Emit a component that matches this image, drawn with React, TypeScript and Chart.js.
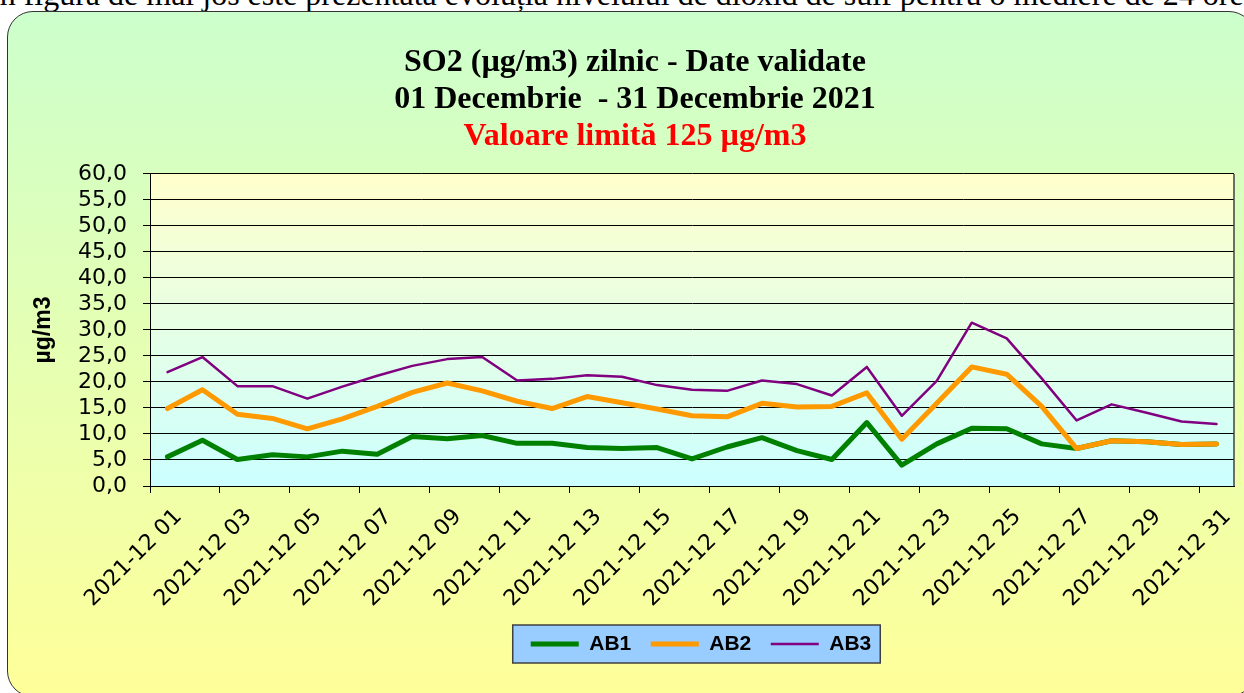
import React, { useEffect, useRef } from 'react';
import { Chart, registerables } from 'chart.js';

Chart.register(...registerables);

const categories = [
  '2021-12 01', '2021-12 02', '2021-12 03', '2021-12 04', '2021-12 05', '2021-12 06', '2021-12 07', '2021-12 08',
  '2021-12 09', '2021-12 10', '2021-12 11', '2021-12 12', '2021-12 13', '2021-12 14', '2021-12 15', '2021-12 16',
  '2021-12 17', '2021-12 18', '2021-12 19', '2021-12 20', '2021-12 21', '2021-12 22', '2021-12 23', '2021-12 24',
  '2021-12 25', '2021-12 26', '2021-12 27', '2021-12 28', '2021-12 29', '2021-12 30', '2021-12 31',
];

const ab1 = [5.6, 8.8, 5.1, 6.0, 5.6, 6.7, 6.1, 9.5, 9.1, 9.7, 8.2, 8.2, 7.4, 7.2, 7.4, 5.2, 7.5, 9.3, 6.8, 5.1, 12.2, 4.0, 8.1, 11.1, 11.0, 8.1, 7.2, 8.7, 8.5, 8.0, 8.1];
const ab2 = [14.9, 18.5, 13.8, 13.0, 11.0, 12.9, 15.3, 18.0, 19.8, 18.3, 16.3, 14.9, 17.2, 16.0, 14.8, 13.5, 13.3, 15.9, 15.2, 15.3, 17.9, 9.0, 15.9, 22.9, 21.5, 15.3, 7.2, 8.7, 8.5, 8.0, 8.1];
const ab3 = [21.9, 24.8, 19.2, 19.2, 16.8, 19.1, 21.2, 23.1, 24.4, 24.8, 20.3, 20.6, 21.3, 21.0, 19.4, 18.5, 18.3, 20.3, 19.6, 17.4, 22.9, 13.5, 20.2, 31.4, 28.4, 20.7, 12.6, 15.7, 14.1, 12.4, 11.9];

const seriesNames = ['AB1', 'AB2', 'AB3'];
const seriesColors = ['#008000', '#FF9900', '#800080'];

const titleLines = ['SO2 (µg/m3) zilnic - Date validate', '01 Decembrie  - 31 Decembrie 2021'];
const subtitleText = 'Valoare limită 125 µg/m3';
const yAxisTitle = 'µg/m3';
const introText = 'În figura de mai jos este prezentată evoluția nivelului de dioxid de sulf pentru o mediere de 24 ore';

const SANS = '"Liberation Sans", Arial, sans-serif';
const TICKFONT = '"DejaVu Sans", "Liberation Sans", sans-serif';
const SERIF = '"Liberation Serif", "Times New Roman", serif';

export default function App() {
  const ref = useRef<HTMLCanvasElement>(null);

  useEffect(() => {
    if (!ref.current) return;

    const decor = {
      id: 'decor',
      afterLayout(chart: any) {
        const lg = chart.legend;
        if (lg) {
          lg.left += 9;
          lg.right += 9;
        }
      },
      beforeDraw(chart: any) {
        const { ctx, chartArea: a } = chart;
        ctx.save();
        const g = ctx.createLinearGradient(0, a.top, 0, a.bottom);
        g.addColorStop(0, '#FFFFCC');
        g.addColorStop(1, '#CCFFFF');
        ctx.fillStyle = g;
        ctx.fillRect(a.left, a.top, a.right - a.left, a.bottom - a.top);
        const lg = chart.legend;
        if (lg && lg.legendHitBoxes && lg.legendHitBoxes.length) {
          const hb = lg.legendHitBoxes;
          const last = hb[hb.length - 1];
          const x0 = hb[0].left - 18;
          const x1 = last.left + last.width + 9;
          const cy = hb[0].top + hb[0].height / 2;
          ctx.fillStyle = '#99CCFF';
          ctx.fillRect(x0, cy - 19, x1 - x0, 38);
          ctx.strokeStyle = '#404040';
          ctx.lineWidth = 1.5;
          ctx.strokeRect(x0, cy - 19, x1 - x0, 38);
        }
        ctx.restore();
      },
      afterDraw(chart: any) {
        const { ctx, chartArea: a } = chart;
        ctx.save();
        ctx.strokeStyle = '#404040';
        ctx.lineWidth = 1.5;
        ctx.beginPath();
        ctx.moveTo(a.right, a.top);
        ctx.lineTo(a.right, a.bottom);
        ctx.stroke();
        ctx.restore();
      },
    };

    const datasets = [ab1, ab2, ab3].map((d, i) => ({
      label: seriesNames[i],
      data: d,
      borderColor: seriesColors[i],
      backgroundColor: seriesColors[i],
      borderWidth: i === 2 ? 2.5 : 5,
      pointRadius: 0,
      pointHoverRadius: 0,
      tension: 0,
      fill: false,
      borderJoinStyle: 'round' as const,
      borderCapStyle: 'round' as const,
      order: [2, 1, 3][i],
    }));

    const chart = new Chart(ref.current, {
      type: 'line',
      data: { labels: categories, datasets },
      plugins: [decor],
      options: {
        responsive: false,
        animation: false,
        events: [],
        layout: { padding: { left: 36, right: 10, top: 0, bottom: 28.5 } },
        plugins: {
          title: {
            display: true,
            text: titleLines,
            color: '#000',
            font: { family: SERIF, size: 32, weight: 'bold', lineHeight: 1.156 },
            padding: { top: 44, bottom: 0 },
          },
          subtitle: {
            display: true,
            text: subtitleText,
            color: '#FF0000',
            font: { family: SERIF, size: 32, weight: 'bold', lineHeight: 1.156 },
            padding: { top: 0, bottom: 19 },
          },
          legend: {
            position: 'bottom',
            fullSize: false,
            labels: {
              usePointStyle: true,
              pointStyle: 'line',
              pointStyleWidth: 48,
              padding: 19.5,
              color: '#000',
              font: { family: SANS, size: 21, weight: 'bold' },
              sort: (a: any, b: any) => a.datasetIndex - b.datasetIndex,
            },
          },
          tooltip: { enabled: false },
        },
        scales: {
          x: {
            type: 'category',
            offset: true,
            grid: {
              offset: true,
              drawOnChartArea: false,
              drawTicks: true,
              tickLength: 7,
              lineWidth: 1,
              color: (c: any) => (typeof c.index === 'number' && c.index % 2 === 0 ? '#000' : 'rgba(0,0,0,0)'),
            },
            border: { display: true, color: '#000', width: 1 },
            ticks: {
              autoSkip: false,
              minRotation: 45,
              maxRotation: 45,
              padding: 11,
              labelOffset: 11,
              color: '#000',
              font: { family: TICKFONT, size: 22 },
              callback: function (this: any, v: any, i: number) {
                return i % 2 === 0 ? this.getLabelForValue(v) : '';
              },
            },
            afterFit: (s: any) => {
              s.height = 128;
              s.paddingLeft = 0;
              s.paddingRight = 0;
            },
          },
          y: {
            min: 0,
            max: 60,
            ticks: {
              stepSize: 5,
              autoSkip: false,
              padding: 16,
              color: '#000',
              font: { family: TICKFONT, size: 22 },
              callback: (v: any) => Number(v).toFixed(1).replace('.', ','),
            },
            grid: { color: '#000', lineWidth: 1, tickLength: 7, drawTicks: true },
            border: { display: true, color: '#000', width: 1 },
            title: {
              display: true,
              text: yAxisTitle,
              color: '#000',
              font: { family: SANS, size: 23, weight: 'bold', lineHeight: 0.5 },
              padding: { top: 2, bottom: 0 },
            },
            afterFit: (s: any) => {
              s.width = 114;
            },
          },
        },
      },
    });

    return () => chart.destroy();
  }, []);

  return (
    <div style={{ position: 'absolute', left: 0, top: 0, width: 1244, height: 693, overflow: 'hidden', background: '#fff' }}>
      <div
        style={{
          position: 'absolute',
          left: -11,
          top: -22,
          whiteSpace: 'nowrap',
          fontFamily: SERIF,
          fontSize: 32,
          lineHeight: '32px',
          color: '#000',
        }}
      >
        {introText}
      </div>
      <div
        style={{
          position: 'absolute',
          left: 7,
          top: 11,
          width: 1248,
          height: 686,
          borderRadius: 26,
          border: '1.5px solid #333',
          boxSizing: 'border-box',
          background: 'linear-gradient(#CCFFCC, #FFFF99)',
        }}
      />
      <canvas ref={ref} width={1244} height={693} style={{ position: 'absolute', left: 0, top: 0 }} />
    </div>
  );
}
